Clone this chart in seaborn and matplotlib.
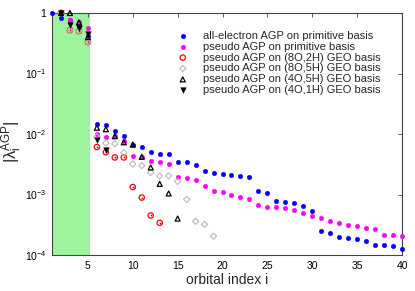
import numpy as np
import pandas as pd
import matplotlib
matplotlib.use("Agg")
import matplotlib.pyplot as plt
import seaborn as sns

# orbital index values
idx_all = np.arange(1, 41)
all_electron = [1.0, 0.82, 0.76, 0.6, 0.41,
                0.0148, 0.0139, 0.0112, 0.0091, 0.0067, 0.0060, 0.0051, 0.0047, 0.0047,
                0.0035, 0.0034, 0.0031, 0.0024, 0.00224, 0.00216, 0.00214, 0.00203, 0.00192,
                0.00116, 0.00107, 0.00078, 0.00076, 0.00072, 0.00064, 0.00054,
                0.00025, 0.000234, 0.0002, 0.00019, 0.000182, 0.00017, 0.000149,
                0.000144, 0.000139, 0.000126]

idx_pseudo = np.arange(2, 41)
pseudo_prim = [1.0, 0.77, 0.70, 0.57,
               0.0100, 0.0089, 0.0093, 0.0077, 0.0043, 0.0042, 0.00354, 0.0034, 0.00324,
               0.00195, 0.0019, 0.00174, 0.0014, 0.00115, 0.00112, 0.0010, 0.00092, 0.00085,
               0.00066, 0.00063, 0.00063, 0.00059, 0.00056, 0.00049, 0.00044, 0.00041,
               0.00036, 0.00034, 0.00031, 0.0003, 0.00028, 0.000266, 0.000214, 0.000212,
               0.00021]

idx_8o2h = np.arange(2, 14)
geo_8o2h = [1.0, 0.52, 0.50, 0.33, 0.0061, 0.0050, 0.0041, 0.0041, 0.00133, 0.00089,
            0.00045, 0.00034]

idx_8o5h = np.arange(2, 20)
geo_8o5h = [1.0, 0.52, 0.50, 0.33, 0.0090, 0.0071, 0.0069, 0.0049, 0.0032, 0.0030,
            0.0023, 0.00203, 0.00203, 0.00165, 0.00083, 0.00036, 0.00032, 0.000204]

idx_4o5h = np.arange(2, 16)
geo_4o5h = [1.0, 1.0, 0.70, 0.40, 0.0127, 0.0120, 0.0092, 0.0073, 0.0067, 0.0042,
            0.0028, 0.0015, 0.00104, 0.0004]

idx_4o1h = np.arange(2, 8)
geo_4o1h = [1.0, 0.64, 0.56, 0.45, 0.0079, 0.0055]

labels = ["all-electron AGP on primitive basis",
          "pseudo AGP on primitive basis",
          "pseudo AGP on (8O,2H) GEO basis",
          "pseudo AGP on (8O,5H) GEO basis",
          "pseudo AGP on (4O,5H) GEO basis",
          "pseudo AGP on (4O,1H) GEO basis"]

sns.set_style("white")
plt.rcParams["font.family"] = ["Liberation Sans", "DejaVu Sans"]
plt.rcParams["mathtext.default"] = "regular"

fig = plt.figure(figsize=(4.15, 2.91), dpi=100)
ax = fig.add_axes([52 / 415, 36 / 291, 350 / 415, 242 / 291])

# shaded region of the first orbitals
ax.axvspan(1, 5.27, color="#9cf59c", zorder=0, lw=0)

styles = [
    (idx_all, all_electron, dict(marker="o", color="blue", edgecolor="blue", s=11)),
    (idx_pseudo, pseudo_prim, dict(marker="o", color="magenta", edgecolor="magenta", s=11)),
    (idx_8o2h, geo_8o2h, dict(marker="o", facecolor="none", edgecolor="red", s=15, linewidth=0.9)),
    (idx_8o5h, geo_8o5h, dict(marker="D", facecolor="none", edgecolor="#b8b8b8", s=10, linewidth=0.8)),
    (idx_4o5h, geo_4o5h, dict(marker="^", facecolor="none", edgecolor="black", s=13, linewidth=0.9)),
    (idx_4o1h, geo_4o1h, dict(marker="v", color="black", edgecolor="black", s=16)),
]

for (xs, ys, kw), lab in zip(styles, labels):
    df = pd.DataFrame({"i": xs, "lam": ys})
    sns.scatterplot(data=df, x="i", y="lam", ax=ax, label=lab, clip_on=False, zorder=3, **kw)
    if lab == labels[2]:
        sns.scatterplot(data=df, x="i", y="lam", ax=ax, marker="o", color="red",
                        edgecolor="red", s=1.5, clip_on=False, zorder=3, legend=False)

ax.set_yscale("log")
ax.set_xlim(1, 40)
ax.set_ylim(1e-4, 1)
ax.set_xticks([5, 10, 15, 20, 25, 30, 35, 40])
ax.set_yticks([1e-4, 1e-3, 1e-2, 1e-1, 1])
ax.set_yticklabels(["10$^{-4}$", "10$^{-3}$", "10$^{-2}$", "10$^{-1}$", "1"])
ax.minorticks_off()
ax.tick_params(direction="in", length=3, width=0.6, labelsize=7.5, top=True, right=True,
               colors="#444444", labelcolor="black", pad=4)
for sp in ax.spines.values():
    sp.set_color("#444444")
    sp.set_linewidth(0.8)

ax.set_xlabel("orbital index i", fontsize=10, labelpad=2)
ax.set_ylabel(r"$|\lambda_i^{AGP}|$", fontsize=12)
ax.yaxis.set_label_coords(-0.08, 0.47)

ax.legend(loc="upper left", bbox_to_anchor=(0.345, 0.945), frameon=False, fontsize=8,
          handletextpad=1.3, labelspacing=0.08, borderaxespad=0, handlelength=1.0)

fig.savefig("out.png", dpi=100)
